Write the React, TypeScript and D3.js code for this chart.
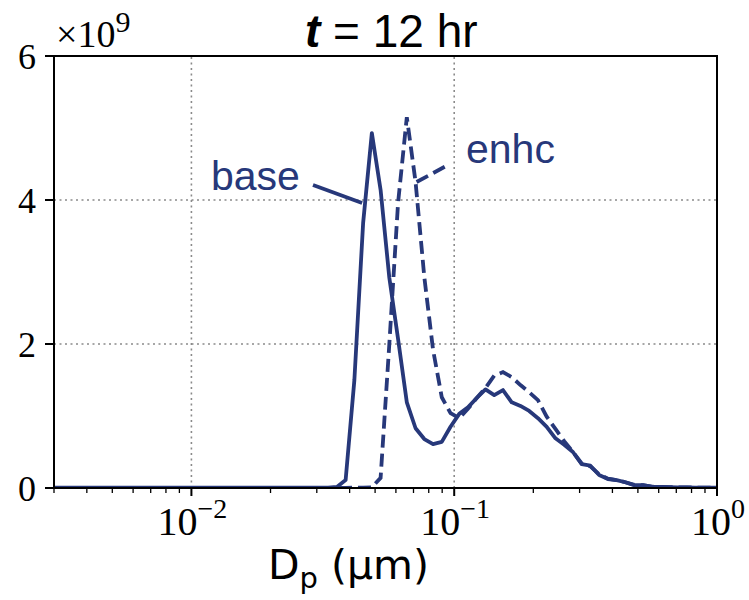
import React from 'react';
import * as d3 from 'd3';

// bin diameters (µm)
const diameters = [
  0.003, 0.005, 0.01, 0.02, 0.03, 0.03314, 0.03578, 0.03862, 0.0417, 0.04502,
  0.0486, 0.05247, 0.05664, 0.06115, 0.06602, 0.07128, 0.07695, 0.08308, 0.08969, 0.09683,
  0.1045, 0.1128, 0.1218, 0.1315, 0.142, 0.1533, 0.1655, 0.1787, 0.1929, 0.2083,
  0.2249, 0.2428, 0.2621, 0.283, 0.3055, 0.3298, 0.356, 0.3844, 0.415, 0.448,
  0.4837, 0.5222, 0.5637, 0.6086, 0.657, 0.7093, 0.7658, 0.8267, 0.8925, 0.9636, 1.0,
];

// number distribution, units of 1e9
const baseValues = [
  0.004, 0.004, 0.004, 0.004, 0.005, 0.005, 0.015, 0.11, 1.5, 3.68,
  4.93, 4.14, 2.92, 2.07, 1.19, 0.83, 0.68, 0.61, 0.64, 0.85,
  1.03, 1.12, 1.25, 1.37, 1.29, 1.36, 1.19, 1.14, 1.07, 0.97,
  0.85, 0.69, 0.6, 0.5, 0.33, 0.31, 0.18, 0.125, 0.11, 0.08,
  0.04, 0.04, 0.02, 0.015, 0.012, 0.01, 0.008, 0.006, 0.005, 0.004, 0.004,
];

const enhcValues = [
  0.003, 0.003, 0.003, 0.003, 0.003, 0.003, 0.003, 0.003, 0.004, 0.006,
  0.01, 0.14, 2.0, 3.96, 5.15, 4.25, 2.93, 1.92, 1.26, 1.04,
  0.97, 1.1, 1.25, 1.39, 1.56, 1.61, 1.54, 1.43, 1.33, 1.22,
  0.99, 0.82, 0.65, 0.5, 0.34, 0.3, 0.19, 0.13, 0.11, 0.08,
  0.045, 0.04, 0.02, 0.015, 0.012, 0.01, 0.008, 0.006, 0.005, 0.004, 0.004,
];

const yTicks = [0, 2, 4, 6];
const xMajor = [0.01, 0.1, 1];
const xMajorExp = ['\u22122', '\u22121', '0'];

const color = '#27387a';
const serif = '"Liberation Serif", "DejaVu Serif", serif';
const sans = '"Liberation Sans", Arial, sans-serif';

const margin = { left: 54, right: 32, top: 56, bottom: 112 };
const W = 749;
const H = 600;

export default function App() {
  const x = d3.scaleLog().domain([0.003, 1]).range([margin.left, W - margin.right]);
  const y = d3.scaleLinear().domain([0, 6]).range([H - margin.bottom, margin.top]);
  const x0 = margin.left;
  const x1 = W - margin.right;
  const y0 = H - margin.bottom;
  const y1 = margin.top;

  const line = d3
    .line<number>()
    .x((_, i) => x(diameters[i]))
    .y((d) => y(d));

  const minor = x.ticks().filter((t) => !xMajor.some((m) => Math.abs(m - t) < 1e-9));

  return (
    <svg width={W} height={H} style={{ position: 'absolute', left: 0, top: 0 }}>
      <rect width={W} height={H} fill="white" />
      <defs>
        <clipPath id="plot">
          <rect x={x0} y={y1 - 5} width={x1 - x0} height={y0 - y1 + 5} />
        </clipPath>
      </defs>

      {/* grid */}
      {xMajor.slice(0, 2).map((t) => (
        <line key={'gx' + t} x1={x(t)} x2={x(t)} y1={y0} y2={y1} stroke="#8a8a8a" strokeWidth={1.6} strokeDasharray="2,3.5" />
      ))}
      {yTicks.slice(1, 3).map((t) => (
        <line key={'gy' + t} x1={x0} x2={x1} y1={y(t)} y2={y(t)} stroke="#8a8a8a" strokeWidth={1.6} strokeDasharray="2,3.5" />
      ))}

      {/* curves */}
      <g clipPath="url(#plot)" fill="none" stroke={color} strokeWidth={3.8} strokeLinejoin="round">
        <path d={line(baseValues) || ''} />
        <path d={line(enhcValues) || ''} strokeDasharray="13,6" strokeLinejoin="miter" />
      </g>

      {/* annotations */}
      <line x1={313} y1={185} x2={x(diameters[9]) - 1} y2={203} stroke={color} strokeWidth={3.8} />
      <text x={211} y={190} fontFamily={sans} fontSize={41} fill={color}>base</text>
      <line x1={x(diameters[15]) + 1} y1={182} x2={448} y2={165} stroke={color} strokeWidth={3.8} strokeDasharray="13,6" />
      <text x={466} y={163} fontFamily={sans} fontSize={41} fill={color}>enhc</text>

      {/* frame */}
      <rect x={x0} y={y1} width={x1 - x0} height={y0 - y1} fill="none" stroke="black" strokeWidth={2} />

      {/* y axis */}
      {yTicks.map((t) => (
        <g key={'yt' + t}>
          <line x1={x0 - 9} x2={x0} y1={y(t)} y2={y(t)} stroke="black" strokeWidth={2} />
          <text x={x0 - 18} y={y(t) + 13} textAnchor="end" fontFamily={serif} fontSize={36}>{t}</text>
        </g>
      ))}
      <text x={56} y={47} fontFamily={serif} fontSize={38}>
        {'\u00d710'}
        <tspan dy={-15} fontSize={30}>9</tspan>
      </text>

      {/* x axis */}
      {xMajor.map((t, i) => (
        <g key={'xt' + t}>
          <line x1={x(t)} x2={x(t)} y1={y0} y2={y0 + 8} stroke="black" strokeWidth={2} />
          <text x={x(t) + 1} y={y0 + 47} textAnchor="middle" fontFamily={serif} fontSize={40}>
            10
            <tspan dy={-17} fontSize={28}>{xMajorExp[i]}</tspan>
          </text>
        </g>
      ))}
      {minor.map((t) => (
        <line key={'xm' + t} x1={x(t)} x2={x(t)} y1={y0} y2={y0 + 5} stroke="black" strokeWidth={1.3} />
      ))}

      {/* labels */}
      <text x={305} y={47} fontFamily={sans} fontSize={46}>
        <tspan fontStyle="italic" fontWeight="bold">t</tspan>
        {' = 12 hr'}
      </text>
      <text x={268} y={579} fontFamily={'"DejaVu Sans", sans-serif'} fontSize={41}>
        D<tspan dy={9} fontSize={29}>p</tspan>
        <tspan dy={-9}>{' (\u00b5m)'}</tspan>
      </text>
    </svg>
  );
}
